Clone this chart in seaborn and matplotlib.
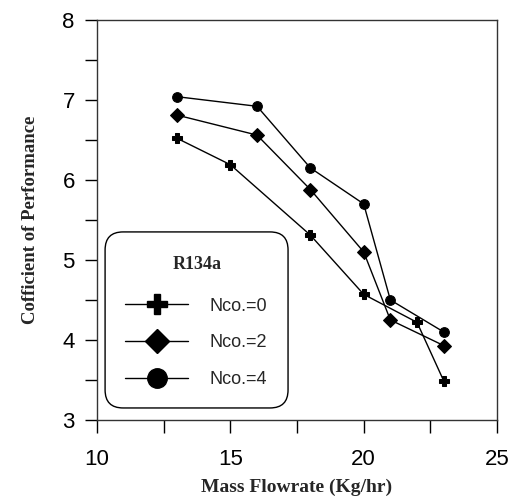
import numpy as np
import pandas as pd
import matplotlib.pyplot as plt
from matplotlib.lines import Line2D
from matplotlib.patches import FancyBboxPatch
from matplotlib.ticker import MultipleLocator
import seaborn as sns

# data
x_nco0 = [13, 15, 18, 20, 22, 23]
y_nco0 = [6.52, 6.19, 5.31, 4.57, 4.22, 3.49]
x_nco2 = [13, 16, 18, 20, 21, 23]
y_nco2 = [6.81, 6.56, 5.88, 5.10, 4.25, 3.93]
x_nco4 = [13, 16, 18, 20, 21, 23]
y_nco4 = [7.04, 6.92, 6.15, 5.70, 4.50, 4.10]
labels = ["Nco.=0", "Nco.=2", "Nco.=4"]
markers = {"Nco.=0": "P", "Nco.=2": "D", "Nco.=4": "o"}

df = pd.concat([
    pd.DataFrame({"flow": x_nco0, "cop": y_nco0, "series": labels[0]}),
    pd.DataFrame({"flow": x_nco2, "cop": y_nco2, "series": labels[1]}),
    pd.DataFrame({"flow": x_nco4, "cop": y_nco4, "series": labels[2]}),
])

sns.set_theme(style="ticks")
plt.rcParams["font.family"] = ["Liberation Sans", "DejaVu Sans"]

fig = plt.figure(figsize=(5.11, 4.97), dpi=100)
ax = fig.add_axes([0.19, 0.155, 0.7826, 0.805])

sns.lineplot(data=df, x="flow", y="cop", style="series", markers=markers,
             dashes=False, color="black", linewidth=1, markersize=7,
             markeredgecolor="black", legend=False, ax=ax, sort=False)

ax.set_xlim(10, 25)
ax.set_ylim(3, 8)
ax.xaxis.set_major_locator(MultipleLocator(5))
ax.xaxis.set_minor_locator(MultipleLocator(2.5))
ax.yaxis.set_major_locator(MultipleLocator(1))
ax.yaxis.set_minor_locator(MultipleLocator(0.5))
ax.tick_params(which="both", direction="out", length=9, width=1, color="black",
               labelsize=16, pad=7, labelcolor="black")
ax.tick_params(axis="x", which="both", pad=12)
for s in ax.spines.values():
    s.set_color("#333333")
    s.set_linewidth(1)

ax.set_xlabel("Mass Flowrate (Kg/hr)", family="Liberation Serif",
              fontweight="bold", fontsize=14, labelpad=6)
ax.set_ylabel("Cofficient of Performance", family="Liberation Serif",
              fontweight="bold", fontsize=13.5, labelpad=17)

# legend frame with rounded corners
box = FancyBboxPatch((0.02, 0.03), 0.4575, 0.44, transform=ax.transAxes,
                     boxstyle="round,pad=0,rounding_size=0.045",
                     facecolor="white", edgecolor="black", linewidth=1, zorder=4)
ax.add_patch(box)
ax.text(0.251, 0.3875, "R134a", transform=ax.transAxes, ha="center", va="center",
        family="Liberation Serif", fontweight="bold", fontsize=13, zorder=5)

handles = [Line2D([], [], color="black", linewidth=1, marker=markers[l],
                  markersize=14 if l != "Nco.=2" else 12,
                  markerfacecolor="black", markeredgecolor="black")
           for l in labels]
leg = ax.legend(handles, labels, loc="center left", bbox_to_anchor=(0.07, 0.1925),
                fontsize=13, handlelength=3.5, handletextpad=1.2,
                labelspacing=1.1, borderpad=0, borderaxespad=0, frameon=False)
leg.set_zorder(6)

fig.savefig("out.png", dpi=100)
